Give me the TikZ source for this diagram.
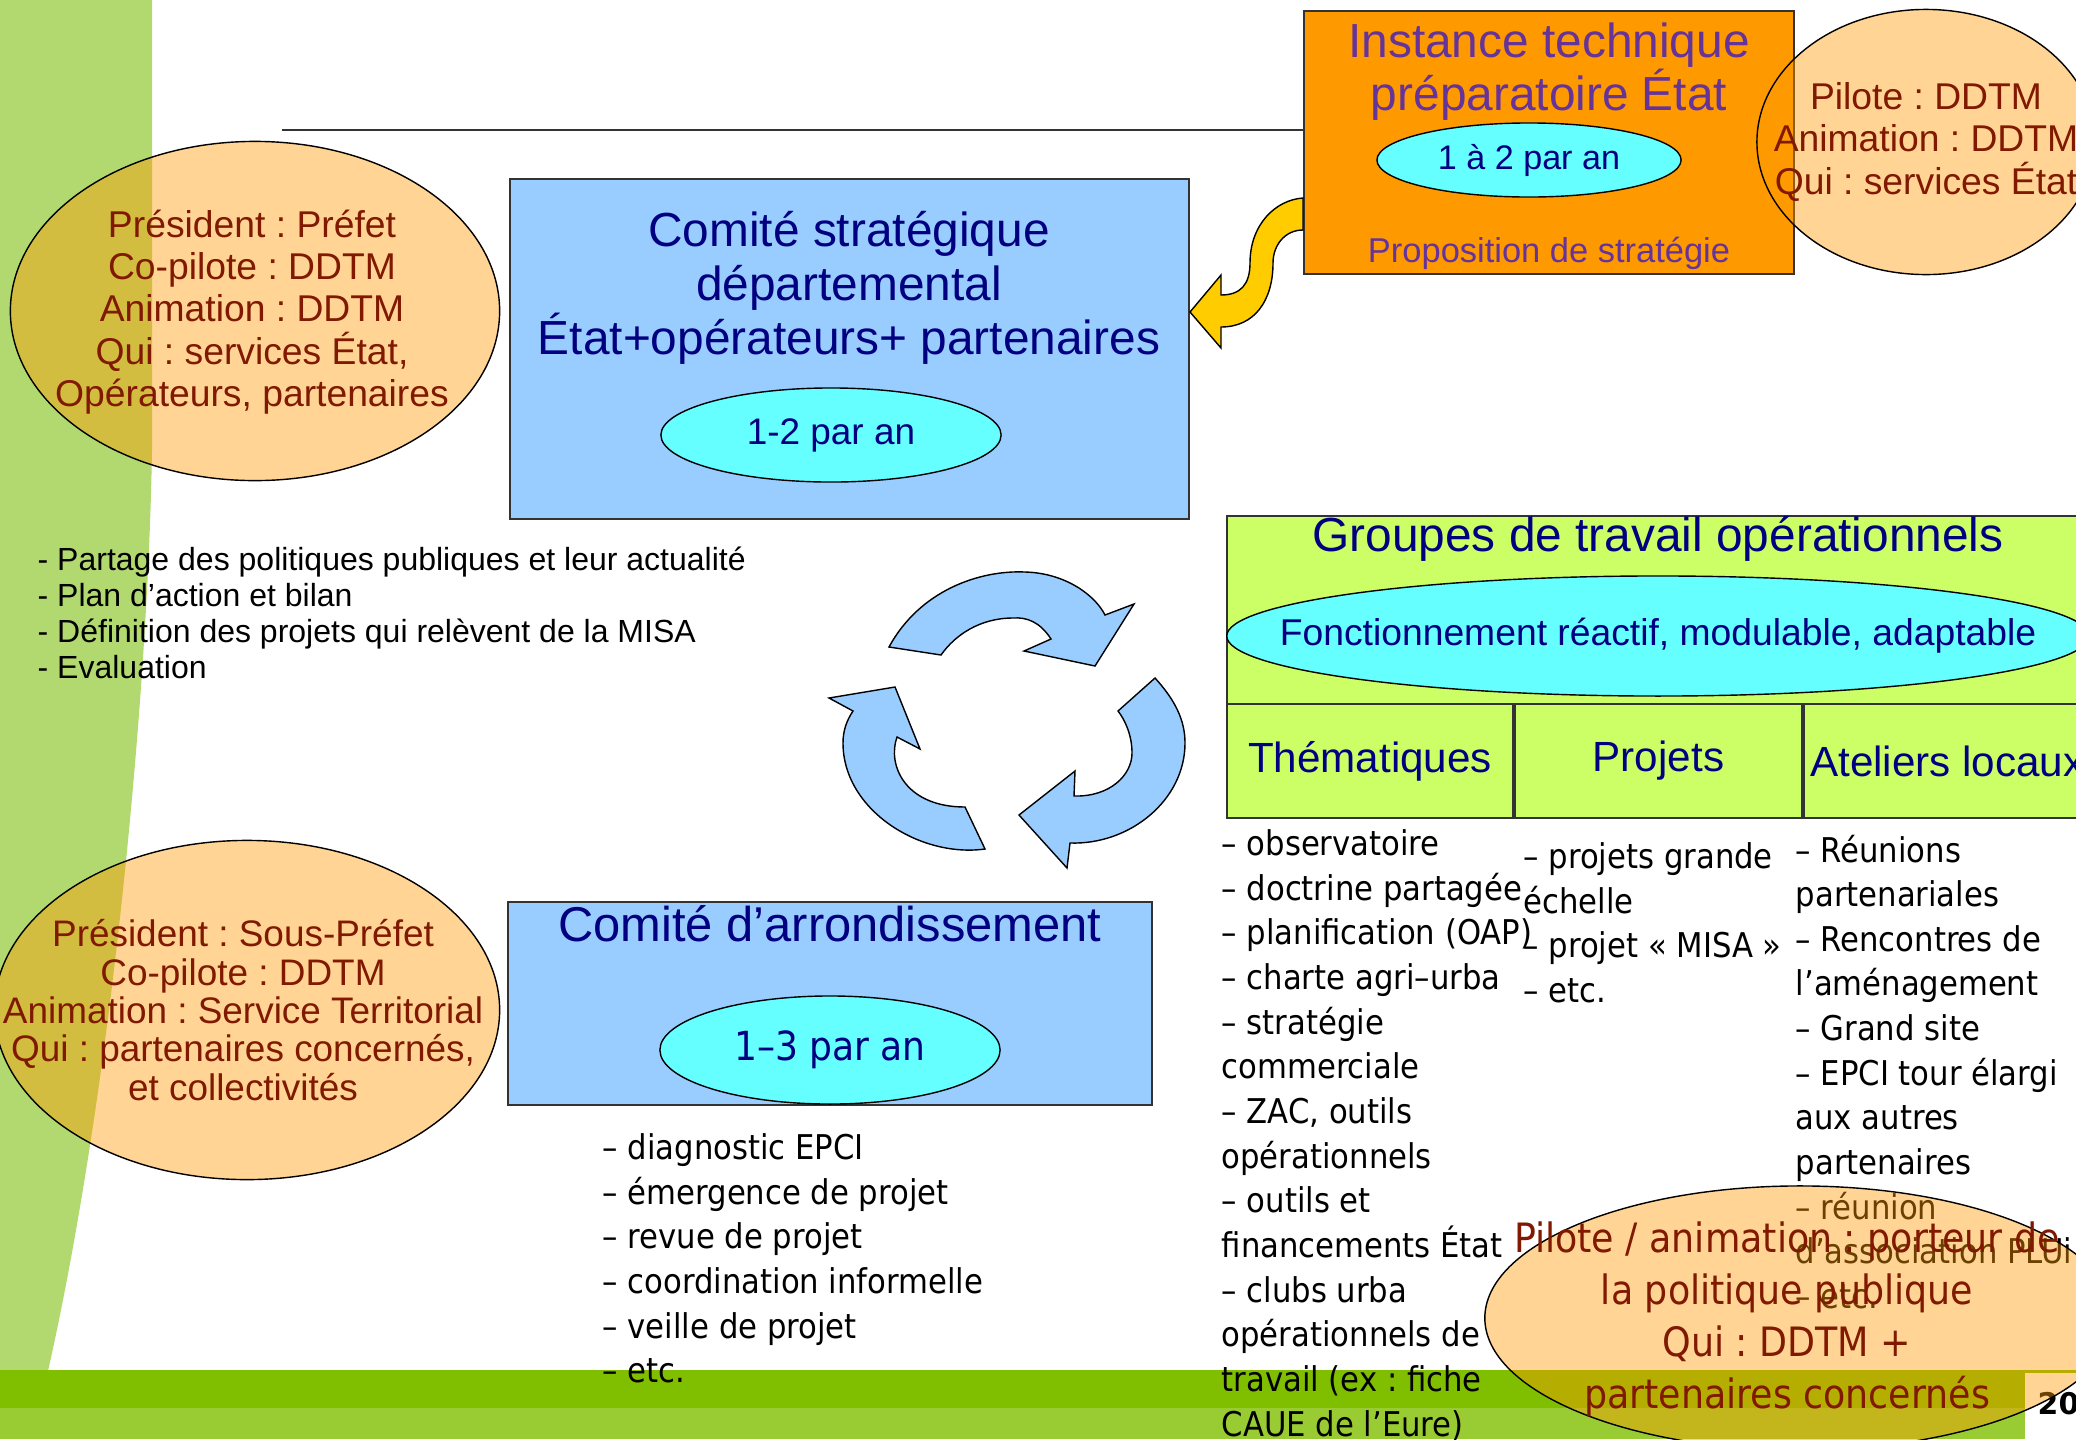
\documentclass[tikz,border=0pt]{standalone}
\usepackage{fontspec}
\setmainfont{Liberation Sans}
\newfontfamily\condfont{DejaVu Sans Condensed}
\newfontfamily\numfont{DejaVu Sans}
\usetikzlibrary{shapes.geometric,positioning}
\frenchspacing

\definecolor{stripgreen}{RGB}{178,216,112}
\definecolor{bardark}{RGB}{128,190,0}
\definecolor{barlight}{RGB}{153,204,51}
\definecolor{orangebox}{RGB}{255,153,0}
\definecolor{bluebox}{RGB}{153,204,255}
\definecolor{cyanfill}{RGB}{102,255,255}
\definecolor{limefill}{RGB}{204,255,102}
\definecolor{navytext}{RGB}{0,0,128}
\definecolor{purpletext}{RGB}{102,51,153}
\definecolor{redtext}{RGB}{128,25,0}
\definecolor{yellowarrow}{RGB}{255,204,0}
\definecolor{linegray}{RGB}{51,51,51}

\begin{document}
\begin{tikzpicture}[%
			x=0.01cm, y=-0.01cm,
			cadre/.style={rectangle, draw=linegray, line width=0.5pt, inner sep=0},
			bleu/.style={cadre, fill=bluebox},
			frequence/.style={ellipse, draw=black, line width=0.4pt, fill=cyanfill, inner sep=0, text=navytext},
			role/.style={ellipse, draw=black, line width=0.4pt, fill=orangebox, fill opacity=0.42, inner sep=0},
			titre/.style={text=navytext, align=center, inner sep=0, font=\fontsize{13.6}{15.4}\selectfont},
			roletexte/.style={text=redtext, align=center, inner sep=0, font=\fontsize{10.6}{12}\selectfont},
			liste/.style={align=left, inner sep=0, anchor=north west, font=\condfont\fontsize{9.7}{12.7}\selectfont},
			colonne/.style={cadre, fill=limefill, minimum width=2.87cm, minimum height=1.14cm, text=navytext, font=\fontsize{12}{14}\selectfont},
			fleche/.style={draw=black, line width=0.4pt, fill=bluebox}
			]
			\useasboundingbox (0,0) rectangle (2076,1439);
			\clip (0,0) rectangle (2076,1439);
			% fond de page
			\fill[white] (0,0) rectangle (2076,1439);
			\fill[stripgreen] (0,0) -- (152,0) -- (152,450) .. controls (148,700) and (110,1100) .. (46,1380) -- (0,1380) -- cycle;
			\fill[bardark] (0,1370) rectangle (2076,1408);
			\fill[barlight] (0,1408) rectangle (2076,1439);
			\node[fill=white, minimum width=0.52cm, minimum height=0.67cm, inner sep=0, anchor=north west] (pagebox) at (2024,1372) {};
			\node[anchor=west, inner sep=0, font=\numfont\bfseries\fontsize{8.5}{10}\selectfont] (pagenum) at (2037,1404) {20};

			% instance technique
			\node[cadre, fill=orangebox, minimum width=4.9cm, minimum height=2.63cm] (inst) at (1549,142.5) {};
			\coordinate (ligne) at (282,130);
			\draw[linegray, line width=0.5pt] (ligne) -- (ligne -| inst.west);
			\node[text=purpletext, align=center, inner sep=0, font=\fontsize{13.6}{15.1}\selectfont] (insttitre) at (1549,72) {Instance technique\\préparatoire État};
			\node[frequence, minimum width=3.04cm, minimum height=0.74cm, font=\fontsize{9.7}{11}\selectfont] (instfreq) at (1529,160) {1 à 2 par an};
			\node[text=purpletext, inner sep=0, font=\fontsize{9.8}{11}\selectfont] (instprop) at (1549,253) {Proposition de stratégie};
			\node[role, minimum width=3.38cm, minimum height=2.65cm] (roleinst) at (1926,142) {};
			\node[roletexte] (roleinsttexte) at (roleinst) {Pilote : DDTM\\Animation : DDTM\\Qui : services État};

			% comite strategique
			\node[bleu, minimum width=6.79cm, minimum height=3.4cm] (strat) at (849.5,349) {};
			\node[titre] (strattitre) at (849,288) {Comité stratégique\\départemental\\État+opérateurs+ partenaires};
			\node[frequence, minimum width=3.4cm, minimum height=0.94cm, font=\fontsize{10.5}{12}\selectfont] (stratfreq) at (831,435) {1-2 par an};
			\node[role, minimum width=4.89cm, minimum height=3.39cm] (rolestrat) at (255,311) {};
			\node[roletexte] (rolestrattexte) at (252,312) {Président : Préfet\\Co-pilote : DDTM\\Animation : DDTM\\Qui : services État,\\Opérateurs, partenaires};

			% fleche jaune
			\draw[draw=black, line width=0.4pt, fill=yellowarrow] (1303,198) .. controls (1275,200) and (1250,225) .. (1250,263) .. controls (1250,285) and (1240,295) .. (1221,295) -- (1221,275) -- (1190,312) -- (1221,348) -- (1221,327) .. controls (1255,327) and (1273,300) .. (1273,263) .. controls (1273,245) and (1285,230) .. (1303,230) -- cycle;

			\node[liste, font=\fontsize{9.1}{10.25}\selectfont] (missions) at (37,546) {- Partage des politiques publiques et leur actualité\\- Plan d’action et bilan\\- Définition des projets qui relèvent de la MISA\\- Evaluation};

			% cycle
			\draw[fleche] (889,647) .. controls (920,590) and (980,570) .. (1025,572) .. controls (1065,573) and (1095,595) .. (1105,615) -- (1134,604) -- (1095,666) -- (1024,651) -- (1051,639) .. controls (1040,622) and (1027,617) .. (1013,618) .. controls (980,618) and (955,635) .. (941,655) -- cycle;
			\draw[fleche] (1155,678) .. controls (1175,700) and (1185,720) .. (1185,743) .. controls (1185,800) and (1130,845) .. (1070,843) -- (1067,868) -- (1019,815) -- (1075,771) -- (1074,796) .. controls (1110,797) and (1132,775) .. (1132,753) .. controls (1132,735) and (1125,720) .. (1118,711) -- cycle;
			\draw[fleche] (985,849) .. controls (920,858) and (843,810) .. (843,743) .. controls (843,730) and (847,720) .. (853,711) -- (829,698) -- (895,687) -- (920,749) -- (897,737) .. controls (887,765) and (905,807) .. (965,807) -- cycle;

			% groupes de travail
			\node[cadre, fill=limefill, minimum width=8.62cm, minimum height=1.88cm] (groupes) at (1658,610) {};
			\node[titre] (groupestitre) at (1658,539) {Groupes de travail opérationnels};
			\node[frequence, minimum width=8.62cm, minimum height=1.2cm] (groupesfreq) at (1658,636) {};
			\node[text=navytext, inner sep=0, font=\fontsize{10.6}{12}\selectfont] (groupesfreqtexte) at (groupesfreq) {Fonctionnement réactif, modulable, adaptable};
			\node[colonne, minimum width=2.86cm] (them) at (1370,761) {Thématiques};
			\node[colonne, right=0pt of them] (proj) {Projets};
			\node[colonne, right=0pt of proj] (atel) {Ateliers locaux};
			\node[liste] (listethem) at (1221,829) {– observatoire\\– doctrine partagée\\– planification (OAP)\\– charte agri–urba\\– stratégie\\commerciale\\– ZAC, outils\\opérationnels\\– outils et\\financements État\\– clubs urba\\opérationnels de\\travail (ex : fiche\\CAUE de l’Eure)};
			\node[liste] (listeproj) at (1523,842) {– projets grande\\échelle\\– projet « MISA »\\– etc.};
			\node[liste] (listeatel) at (1795,834) {– Réunions\\partenariales\\– Rencontres de\\l’aménagement\\– Grand site\\– EPCI tour élargi\\aux autres\\partenaires\\– réunion\\d’association PLUi\\– etc.};

			% comite d'arrondissement
			\node[role, minimum width=5.05cm, minimum height=3.39cm] (rolearr) at (247,1010) {};
			\node[roletexte, font=\fontsize{10.5}{10.9}\selectfont] (rolearrtexte) at (243,1010) {Président : Sous-Préfet\\Co-pilote : DDTM\\Animation : Service Territorial\\Qui : partenaires concernés,\\et collectivités};
			\node[bleu, minimum width=6.44cm, minimum height=2.03cm] (arrond) at (830,1003.5) {};
			\node[titre, font=\fontsize{13.9}{16}\selectfont] (arrondtitre) at (830,924) {Comité d’arrondissement};
			\node[frequence, minimum width=3.4cm, minimum height=1.08cm, font=\condfont\fontsize{11.4}{13}\selectfont] (arrondfreq) at (830,1050) {1–3 par an};
			\node[liste] (listearr) at (602,1133) {– diagnostic EPCI\\– émergence de projet\\– revue de projet\\– coordination informelle\\– veille de projet\\– etc.};

			% pilotage des groupes
			\node[role, minimum width=6.3cm, minimum height=2.64cm] (rolegroupes) at (1800,1318) {};
			\node[roletexte, font=\condfont\fontsize{11.5}{14.8}\selectfont] (rolegroupestexte) at (1787,1319) {Pilote / animation : porteur de\\la politique publique\\Qui : DDTM +\\partenaires concernés};
		\end{tikzpicture}
\end{document}
